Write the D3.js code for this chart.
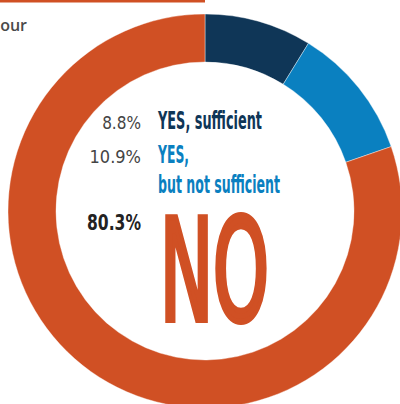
<!DOCTYPE html>
<html>
<head>
<meta charset="utf-8">
<script src="https://cdn.jsdelivr.net/npm/d3@7"></script>
<style>
  html, body { margin: 0; padding: 0; background: #fff; }
  svg { display: block; }
</style>
</head>
<body>
<div id="chart"></div>
<script>
// data
var categories = ["YES, sufficient", "YES, but not sufficient", "NO"];
var values = [8.8, 10.9, 80.3];
var valueLabels = ["8.8%", "10.9%", "80.3%"];
var colors = ["#0f3657", "#0a80c0", "#d05024"];

var width = 400;
var height = 404;
var cx = 205, cy = 211;
var outerR = 197, innerR = 149;
var narrow = "'Liberation Sans Narrow', 'DejaVu Sans Condensed', Roboto, sans-serif";

var svg = d3.select("#chart")
    .append("svg")
    .attr("width", width)
    .attr("height", height);

// thin rule at the top and the cropped question text
svg.append("rect")
    .attr("x", 0).attr("y", 0)
    .attr("width", 205).attr("height", 2.5)
    .attr("fill", "#d05024");

svg.append("text")
    .attr("x", 27).attr("y", 31)
    .attr("text-anchor", "end")
    .style("font-family", "'Open Sans', sans-serif")
    .style("font-size", "16px")
    .style("font-weight", 600)
    .attr("fill", "#4a4a4a")
    .text("our");

var pie = d3.pie().sort(null).value(function (d) { return d; });
var arc = d3.arc().outerRadius(outerR).innerRadius(innerR);
var colorScale = d3.scaleOrdinal().domain(categories).range(colors);

var g = svg.append("g")
    .attr("transform", "translate(" + cx + "," + cy + ")");

g.selectAll(".arc")
    .data(pie(values))
    .enter().append("path")
    .attr("class", "arc")
    .attr("d", arc)
    .attr("fill", function (d, i) { return colorScale(categories[i]); })
    .attr("stroke", "#fff")
    .attr("stroke-width", 0.4);

// percentage labels
var pct = svg.append("g");
pct.append("text")
    .attr("x", 141).attr("y", 129)
    .attr("text-anchor", "end")
    .attr("fill", "#444")
    .style("font-family", narrow).style("font-size", "17px").style("font-weight", 300)
    .text(valueLabels[0]);
pct.append("text")
    .attr("x", 141).attr("y", 163)
    .attr("text-anchor", "end")
    .attr("fill", "#444")
    .style("font-family", narrow).style("font-size", "18px").style("font-weight", 300)
    .text(valueLabels[1]);
pct.append("text")
    .attr("x", 141).attr("y", 230)
    .attr("text-anchor", "end")
    .attr("fill", "#222")
    .style("font-family", narrow).style("font-size", "22px").style("font-weight", "bold")
    .attr("textLength", 54).attr("lengthAdjust", "spacingAndGlyphs")
    .text(valueLabels[2]);

// category labels
var cat = svg.append("g")
    .style("font-family", narrow)
    .style("font-weight", "bold");
cat.append("text")
    .attr("x", 158).attr("y", 129)
    .attr("fill", colors[0])
    .style("font-size", "24px")
    .attr("textLength", 104).attr("lengthAdjust", "spacingAndGlyphs")
    .text(categories[0]);

var parts = categories[1].split(" ");
cat.append("text")
    .attr("x", 158).attr("y", 163)
    .attr("fill", colors[1])
    .style("font-size", "24px")
    .attr("textLength", 31).attr("lengthAdjust", "spacingAndGlyphs")
    .text(parts[0]);
cat.append("text")
    .attr("x", 158).attr("y", 193)
    .attr("fill", colors[1])
    .style("font-size", "24px")
    .attr("textLength", 122).attr("lengthAdjust", "spacingAndGlyphs")
    .text(parts.slice(1).join(" "));

// big NO: regular weight thickened with a same-colour stroke
cat.append("text")
    .attr("x", 160).attr("y", 320)
    .attr("fill", colors[2])
    .attr("stroke", colors[2])
    .attr("stroke-width", 6)
    .style("font-size", "140px")
    .style("font-weight", "normal")
    .attr("textLength", 109).attr("lengthAdjust", "spacingAndGlyphs")
    .text(categories[2]);
</script>
</body>
</html>
